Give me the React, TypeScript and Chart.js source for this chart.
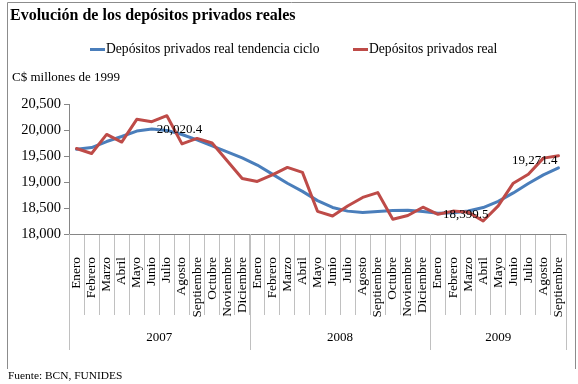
import React, { useEffect, useRef } from 'react';
import { Chart, registerables } from 'chart.js';

Chart.register(...registerables);

const chartTitle = 'Evolución de los depósitos privados reales';
const yAxisTitle = 'C$ millones de 1999';
const sourceNote = 'Fuente: BCN, FUNIDES';

const monthLabels = [
  'Enero', 'Febrero', 'Marzo', 'Abril', 'Mayo', 'Junio', 'Julio', 'Agosto', 'Septiembre', 'Octubre', 'Noviembre', 'Diciembre',
  'Enero', 'Febrero', 'Marzo', 'Abril', 'Mayo', 'Junio', 'Julio', 'Agosto', 'Septiembre', 'Octubre', 'Noviembre', 'Diciembre',
  'Enero', 'Febrero', 'Marzo', 'Abril', 'Mayo', 'Junio', 'Julio', 'Agosto', 'Septiembre',
];
const yearLabels = ['2007', '2008', '2009'];
const monthsPerYear = [12, 12, 9];

const seriesNames = ['Depósitos privados real tendencia ciclo', 'Depósitos privados real'];

const tendenciaCiclo = [
  19630, 19662, 19778, 19875, 19980, 20020.4, 19992, 19914, 19810, 19695, 19580, 19465,
  19326, 19152, 18975, 18820, 18642, 18510, 18440, 18415, 18433, 18452, 18459, 18431,
  18399.5, 18410, 18443, 18508, 18627, 18790, 18970, 19137, 19271.4,
];
const depositosReal = [
  19645, 19548, 19915, 19768, 20205, 20160, 20275, 19733, 19838, 19750, 19410, 19068,
  19010, 19136, 19280, 19185, 18436, 18346, 18539, 18703, 18796, 18285, 18356, 18515,
  18379, 18440, 18420, 18250, 18540, 18977, 19150, 19459, 19504,
];

const yMin = 18000;
const yMax = 20500;
const yStep = 500;

// indices of the trend series that carry a value label
const labeledTrendPoints = [5, 24, 32];

const FONT = '"Liberation Serif", "Times New Roman", serif';
const BLUE = '#4A7EBB';
const RED = '#BE4B48';

const fmt = (v: number, dec: number) =>
  v.toLocaleString('en-US', { minimumFractionDigits: dec, maximumFractionDigits: dec });

const decorPlugin = {
  id: 'decor',
  afterDraw(chart: any) {
    const ctx = chart.ctx as CanvasRenderingContext2D;
    const xs = chart.scales.x;
    ctx.save();

    // outer frame
    ctx.strokeStyle = '#8c8c8c';
    ctx.lineWidth = 1;
    ctx.beginPath();
    ctx.moveTo(7.5, 369);
    ctx.lineTo(7.5, 2.5);
    ctx.lineTo(575.5, 2.5);
    ctx.lineTo(575.5, 369);
    ctx.stroke();

    // title
    ctx.fillStyle = '#000';
    ctx.textBaseline = 'middle';
    ctx.textAlign = 'left';
    ctx.font = `bold 16px ${FONT}`;
    ctx.fillText(chartTitle, 10, 16);

    // legend
    ctx.font = `13.6px ${FONT}`;
    const legendX = [90, 353];
    chart.data.datasets.forEach((ds: any, i: number) => {
      const lx = legendX[i];
      ctx.strokeStyle = ds.borderColor;
      ctx.lineWidth = 3;
      ctx.beginPath();
      ctx.moveTo(lx, 49.5);
      ctx.lineTo(lx + 15, 49.5);
      ctx.stroke();
      ctx.fillStyle = '#000';
      ctx.fillText(ds.label, lx + 16, 49);
    });

    // y axis title
    ctx.font = `13px ${FONT}`;
    ctx.fillText(yAxisTitle, 12, 78);

    // year group separators and labels
    const n = monthLabels.length;
    const boundaryPx = (k: number) => {
      if (k <= 0) return xs.left;
      if (k >= n) return xs.right;
      return (xs.getPixelForValue(k - 1) + xs.getPixelForValue(k)) / 2;
    };
    ctx.strokeStyle = '#c0c0c0';
    ctx.lineWidth = 1;
    let start = 0;
    const bounds: number[] = [0];
    monthsPerYear.forEach((c) => { start += c; bounds.push(start); });
    bounds.forEach((k) => {
      const px = Math.round(boundaryPx(k)) + 0.5;
      ctx.beginPath();
      ctx.moveTo(px, xs.top);
      ctx.lineTo(px, xs.top + 116);
      ctx.stroke();
    });
    ctx.fillStyle = '#000';
    ctx.textAlign = 'center';
    ctx.font = `13px ${FONT}`;
    yearLabels.forEach((y, i) => {
      const a = boundaryPx(bounds[i]);
      const b = boundaryPx(bounds[i + 1]);
      ctx.fillText(y, (a + b) / 2, xs.top + 104);
    });

    // data labels on trend series
    const meta = chart.getDatasetMeta(0);
    const data = chart.data.datasets[0].data;
    ctx.font = `13px ${FONT}`;
    labeledTrendPoints.forEach((idx) => {
      const pt = meta.data[idx];
      const txt = fmt(data[idx], 1);
      if (idx === n - 1) {
        ctx.textAlign = 'right';
        ctx.fillText(txt, pt.x - 1, pt.y - 7);
      } else {
        ctx.textAlign = 'left';
        ctx.fillText(txt, pt.x + 5, pt.y + 1);
      }
    });

    // source
    ctx.textAlign = 'left';
    ctx.font = `11.4px ${FONT}`;
    ctx.fillText(sourceNote, 8, 376);

    ctx.restore();
  },
};

export default function App() {
  const canvasRef = useRef<HTMLCanvasElement | null>(null);

  useEffect(() => {
    if (!canvasRef.current) return;
    const chart = new Chart(canvasRef.current, {
      type: 'line',
      data: {
        labels: monthLabels,
        datasets: [
          {
            label: seriesNames[0],
            data: tendenciaCiclo,
            borderColor: BLUE,
            backgroundColor: BLUE,
            borderWidth: 3,
            pointRadius: 0,
            tension: 0,
            borderJoinStyle: 'round',
            borderCapStyle: 'round',
            order: 1,
          },
          {
            label: seriesNames[1],
            data: depositosReal,
            borderColor: RED,
            backgroundColor: RED,
            borderWidth: 3,
            pointRadius: 0,
            tension: 0,
            borderJoinStyle: 'round',
            borderCapStyle: 'round',
            order: 0,
          },
        ],
      },
      options: {
        responsive: false,
        animation: false,
        devicePixelRatio: 1,
        layout: { padding: { left: 0, right: 12, top: 104, bottom: 0 } },
        plugins: {
          legend: { display: false },
          title: { display: false },
          tooltip: { enabled: false },
        },
        scales: {
          x: {
            type: 'category',
            offset: true,
            grid: {
              offset: true,
              drawOnChartArea: false,
              drawTicks: true,
              tickLength: 81,
              color: '#c0c0c0',
            },
            border: { color: '#868686', width: 1 },
            ticks: {
              autoSkip: false,
              maxRotation: 90,
              minRotation: 90,
              padding: -58,
              color: '#000',
              font: { family: FONT, size: 13.3 },
            },
            afterFit: (scale: any) => { scale.height = 150; },
          },
          y: {
            min: yMin,
            max: yMax,
            grid: {
              drawOnChartArea: false,
              drawTicks: true,
              tickLength: 5,
              color: '#868686',
            },
            border: { color: '#868686', width: 1 },
            ticks: {
              stepSize: yStep,
              padding: 3,
              color: '#000',
              font: { family: FONT, size: 14.5 },
              callback: (v: any) => fmt(Number(v), 0),
            },
            afterFit: (scale: any) => { scale.width = 69; },
          },
        },
      },
      plugins: [decorPlugin],
    });
    return () => chart.destroy();
  }, []);

  return (
    <div style={{ position: 'fixed', left: 0, top: 0, width: 578, height: 384, background: '#fff' }}>
      <canvas ref={canvasRef} width={578} height={384} style={{ display: 'block' }} />
    </div>
  );
}
